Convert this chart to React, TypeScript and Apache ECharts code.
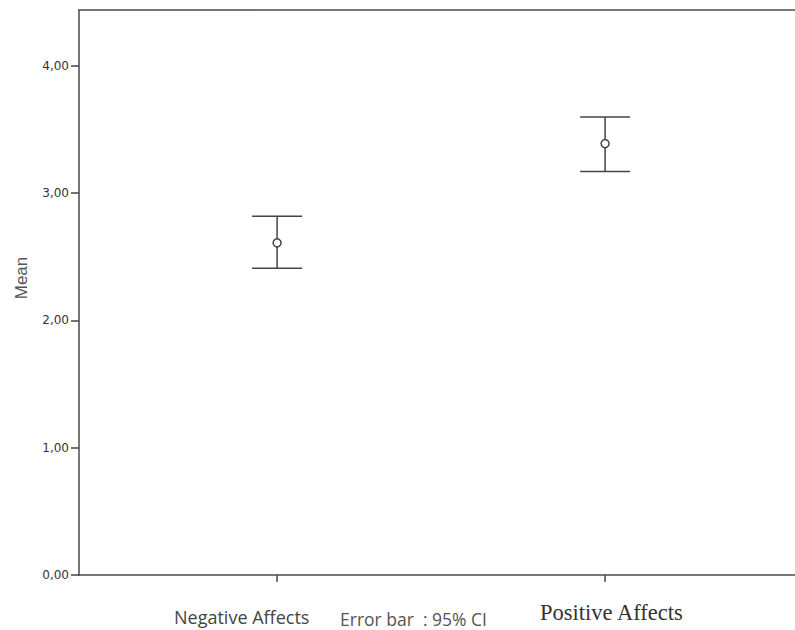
import React, { useEffect, useRef } from "react";
import * as echarts from "echarts";

const categories = ["Negative Affects", "Positive Affects"];
const categoryPos = [1, 2];
const means = [2.61, 3.39];
const lower = [2.41, 3.17];
const upper = [2.82, 3.6];
const yTicks = [0, 1, 2, 3, 4];
const yTitle = "Mean";
const noteText = "Error bar  : 95% CI";

export default function App() {
  const ref = useRef<HTMLDivElement>(null);
  useEffect(() => {
    const chart = echarts.init(ref.current!, null, { renderer: "svg" });
    const axisColor = "#4a4a4a";
    const data = categoryPos.map((p, i) => [p, means[i], lower[i], upper[i]]);
    chart.setOption({
      animation: false,
      backgroundColor: "#ffffff",
      grid: { left: 79, right: 0, top: 10, bottom: 55 },
      xAxis: [
        {
          type: "value",
          min: 0.396,
          max: 2.579,
          axisLine: { show: true, onZero: false, lineStyle: { color: axisColor, width: 1.5 } },
          axisTick: { show: true, inside: false, customValues: categoryPos, length: 7, lineStyle: { color: axisColor, width: 1.5 } },
          axisLabel: { show: false },
          splitLine: { show: false },
        },
        {
          type: "value",
          position: "top",
          min: 0.396,
          max: 2.579,
          axisLine: { show: true, onZero: false, lineStyle: { color: axisColor, width: 1.5 } },
          axisTick: { show: false },
          axisLabel: { show: false },
          splitLine: { show: false },
        },
      ],
      yAxis: {
        type: "value",
        min: 0,
        max: 4.44,
        axisLine: { show: true, onZero: false, lineStyle: { color: axisColor, width: 1.5 } },
        axisTick: { show: true, inside: false, customValues: yTicks, length: 8, lineStyle: { color: "#444", width: 1.5 } },
        axisLabel: {
          customValues: yTicks,
          margin: 10,
          fontFamily: "DejaVu Sans",
          fontSize: 12,
          color: "#333",
          formatter: (v: number) => v.toFixed(2).replace(".", ","),
        },
        splitLine: { show: false },
      },
      series: [
        {
          type: "custom",
          xAxisIndex: 0,
          data,
          renderItem: (params: any, api: any) => {
            const x = api.value(0);
            const c = api.coord([x, api.value(1)]);
            const lo = api.coord([x, api.value(2)]);
            const hi = api.coord([x, api.value(3)]);
            const hw = 25;
            const r = 4;
            const style = { stroke: "#444", lineWidth: 1.5, fill: null };
            return {
              type: "group",
              children: [
                { type: "line", shape: { x1: c[0], y1: hi[1], x2: c[0], y2: c[1] - r }, style },
                { type: "line", shape: { x1: c[0], y1: c[1] + r, x2: c[0], y2: lo[1] }, style },
                { type: "line", shape: { x1: c[0] - hw, y1: hi[1], x2: c[0] + hw, y2: hi[1] }, style },
                { type: "line", shape: { x1: c[0] - hw, y1: lo[1], x2: c[0] + hw, y2: lo[1] }, style },
                { type: "circle", shape: { cx: c[0], cy: c[1], r }, style: { stroke: "#444", lineWidth: 1.5, fill: "#fff" } },
              ],
            };
          },
        },
      ],
      graphic: [
        {
          type: "text",
          x: 21,
          y: 278,
          rotation: Math.PI / 2,
          style: { text: yTitle, fontFamily: "Liberation Sans", fontSize: 17, fill: "#555", align: "center", verticalAlign: "middle" },
        },
        {
          type: "text",
          x: 174,
          y: 617,
          style: { text: categories[0], fontFamily: "Open Sans", fontSize: 18, fill: "#444", verticalAlign: "middle" },
        },
        {
          type: "text",
          x: 340,
          y: 619,
          style: { text: noteText, fontFamily: "Open Sans", fontSize: 17.5, fill: "#555", verticalAlign: "middle" },
        },
        {
          type: "text",
          x: 540,
          y: 612,
          style: { text: categories[1], fontFamily: "Liberation Serif", fontSize: 22.5, fill: "#333", verticalAlign: "middle" },
        },
      ],
    });
    return () => chart.dispose();
  }, []);
  return (
    <div
      ref={ref}
      style={{ position: "fixed", left: 0, top: 0, width: 795, height: 630 }}
    />
  );
}
